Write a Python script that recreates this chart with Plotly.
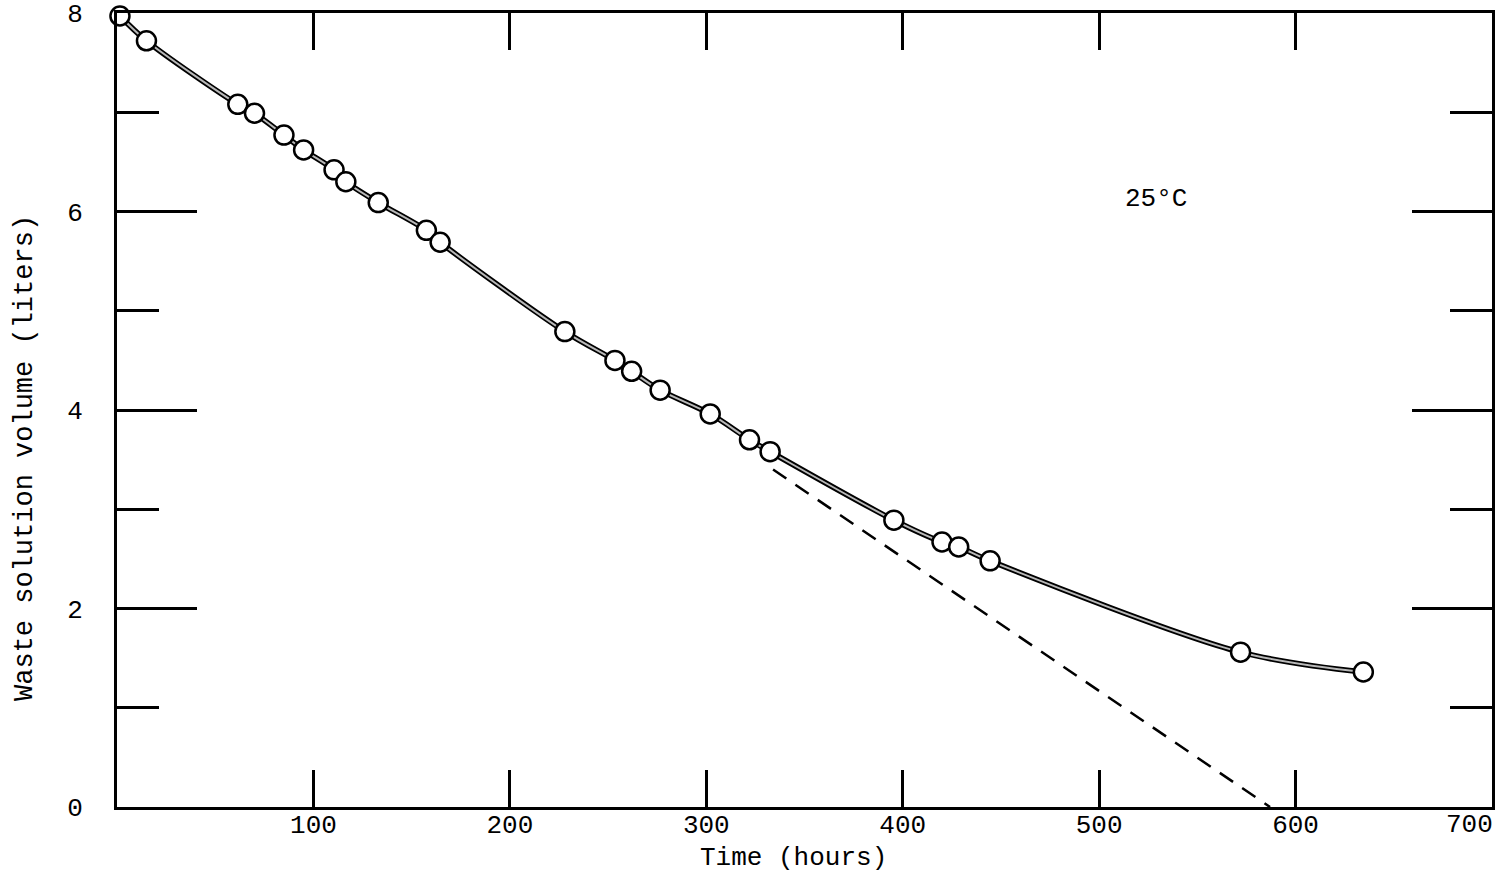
import plotly.graph_objects as go

# Measured data (time in hours, waste solution volume in liters)
time_h = [1.5, 15, 61.5, 70, 85, 95, 110.5, 116.5, 133, 157.5, 164.5, 228, 253.5,
          262, 276.5, 302, 322, 332.5, 395.5, 420, 428.5, 444.5, 572, 634.5]
volume_l = [7.97, 7.72, 7.08, 6.99, 6.77, 6.62, 6.42, 6.30, 6.09, 5.81, 5.69, 4.79, 4.50,
            4.39, 4.20, 3.96, 3.70, 3.58, 2.89, 2.67, 2.62, 2.48, 1.56, 1.36]

# Linear extrapolation (dashed)
extrap_t = [334, 587]
extrap_v = [3.40, 0.0]

x_tickvals = [100, 200, 300, 400, 500, 600]
x_ticktext = ["100", "200", "300", "400", "500", "600"]
x_end_val = 700
x_end_text = "700"
y_tickvals = [0, 2, 4, 6, 8]
y_ticktext = ["0", "2", "4", "6", "8"]

FONT = "Liberation Mono, DejaVu Sans Mono, monospace"

W, H = 1506, 877
L, R, T, B = 117, 14, 13, 70
PW, PH = W - L - R, H - T - B


def px_to_paper(px, py):
    return (px - L) / PW, (H - B - py) / PH


fig = go.Figure()

# Double-stroke smooth curve: dark outer, gray inner
fig.add_trace(go.Scatter(x=time_h, y=volume_l, mode="lines",
                         line=dict(color="black", width=5.5, shape="spline", smoothing=0.9),
                         hoverinfo="skip", showlegend=False))
fig.add_trace(go.Scatter(x=time_h, y=volume_l, mode="lines",
                         line=dict(color="#b8b8b8", width=2, shape="spline", smoothing=0.9),
                         hoverinfo="skip", showlegend=False))
fig.add_trace(go.Scatter(x=extrap_t, y=extrap_v, mode="lines",
                         line=dict(color="black", width=2.5, dash="16px,11px"),
                         showlegend=False))
fig.add_trace(go.Scatter(x=time_h, y=volume_l, mode="markers",
                         marker=dict(size=19, color="white", symbol="circle",
                                     line=dict(color="black", width=2.5)),
                         showlegend=False, cliponaxis=False))

fig.add_annotation(x=529, y=6.13, text="25°C", showarrow=False, xref="x", yref="y",
                   font=dict(family=FONT, size=26, color="black"))

# End-of-axis label (sits left of the frame corner, as in the original)
fig.add_annotation(x=x_end_val, y=0, xref="x", yref="paper", text=x_end_text,
                   showarrow=False, xanchor="center", yanchor="top",
                   xshift=-23, yshift=-1,
                   font=dict(family=FONT, size=26, color="black"))

xt_x, xt_y = px_to_paper(793, 858)
fig.add_annotation(x=xt_x, y=xt_y, xref="paper", yref="paper", text="Time (hours)",
                   showarrow=False, xanchor="center", yanchor="middle",
                   font=dict(family=FONT, size=26, color="black"))

yt_x, yt_y = px_to_paper(25, 458)
fig.add_annotation(x=yt_x, y=yt_y, xref="paper", yref="paper",
                   text="Waste solution volume (liters)", textangle=-90,
                   showarrow=False, xanchor="center", yanchor="middle",
                   font=dict(family=FONT, size=27, color="black"))

fig.update_layout(
    width=W, height=H,
    margin=dict(l=L, r=R, t=T, b=B, autoexpand=False),
    paper_bgcolor="white", plot_bgcolor="white",
    showlegend=False,
    font=dict(family=FONT, size=26, color="black"),
)

fig.update_xaxes(range=[0, 700], showgrid=False, zeroline=False, automargin=False,
                 showline=True, linecolor="black", linewidth=3, mirror="ticks",
                 ticks="inside", ticklen=37, tickwidth=3, tickcolor="black",
                 tickvals=x_tickvals, ticktext=x_ticktext,
                 tickfont=dict(family=FONT, size=26, color="black"),
                 ticklabeloverflow="allow", ticklabelstandoff=-8)
fig.update_yaxes(range=[0, 8], showgrid=False, zeroline=False, automargin=False,
                 showline=True, linecolor="black", linewidth=3, mirror="ticks",
                 ticks="inside", ticklen=80, tickwidth=3, tickcolor="black",
                 tickvals=y_tickvals, ticktext=y_ticktext,
                 minor=dict(ticks="inside", ticklen=42, tickwidth=3, tickcolor="black",
                            dtick=1, tick0=0, showgrid=False),
                 tickfont=dict(family=FONT, size=26, color="black"),
                 ticklabeloverflow="allow", ticklabelstandoff=26)

fig.write_html("out.html")
